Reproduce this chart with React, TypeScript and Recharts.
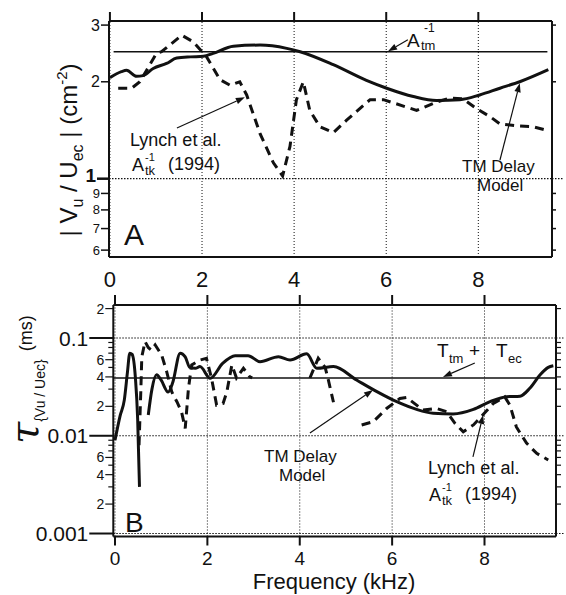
import React from 'react';
import { LineChart, Line, XAxis, YAxis, ReferenceLine } from 'recharts';

const FONT = '"Liberation Sans", Arial, Helvetica, sans-serif';
const SERIF = '"DejaVu Serif", "Liberation Serif", serif';
const INK = '#111';

const FREQ_TICKS = [0, 2, 4, 6, 8];

// ---- Panel A: |Vu / Uec| (cm^-2) ----
const A_TICKS = [0.6, 0.7, 0.8, 0.9, 1, 2, 3];
const A_TICK_LABELS = ['6', '7', '8', '9', '1', '2', '3'];
const A_X_DOMAIN = [-0.02, 9.6];
const A_Y_DOMAIN = [0.5712, 3.089];
const A_GRID_Y = [1];
const A_TM_INV = 2.48;

const TM_A_FREQ = [0, 0.25, 0.36, 0.58, 0.72, 0.94, 1.23, 1.45, 1.75, 2.03, 2.24, 2.68, 3.26, 3.84, 4.13, 4.85, 5.57, 6.01, 6.59, 7.09, 7.6, 8.03, 8.47, 8.9, 9.52];
const TM_A_MAG = [2.06, 2.15, 2.17, 2.08, 2.09, 2.2, 2.28, 2.37, 2.39, 2.4, 2.45, 2.58, 2.6, 2.54, 2.48, 2.26, 2.02, 1.91, 1.8, 1.75, 1.76, 1.82, 1.91, 2.0, 2.18];

const LYNCH_A_FREQ = [0.18, 0.47, 0.65, 1.01, 1.12, 1.56, 1.81, 2.1, 2.39, 2.61, 2.82, 2.97, 3.26, 3.55, 3.75, 3.91, 4.05, 4.2, 4.34, 4.56, 4.85, 5.14, 5.65, 5.94, 6.66, 7.09, 7.38, 7.67, 7.96, 8.25, 8.47, 8.83, 9.19, 9.52];
const LYNCH_A_MAG = [1.91, 1.91, 2.0, 2.45, 2.48, 2.79, 2.66, 2.39, 2.03, 1.95, 2.0, 1.82, 1.38, 1.12, 1.02, 1.26, 1.76, 2.0, 1.63, 1.45, 1.39, 1.52, 1.76, 1.76, 1.63, 1.73, 1.78, 1.77, 1.65, 1.56, 1.48, 1.46, 1.45, 1.41];

// ---- Panel B: group delay tau (ms) ----
const B_TICKS = [0.001, 0.002, 0.003, 0.004, 0.005, 0.006, 0.007, 0.008, 0.009, 0.01, 0.02, 0.03, 0.04, 0.05, 0.06, 0.07, 0.08, 0.09, 0.1, 0.2];
const B_TICK_LABELS = ['0.001', '2', '', '4', '', '6', '', '', '', '0.01', '2', '', '4', '', '6', '', '', '', '0.1', '2'];
const B_MAJOR = [0.001, 0.01, 0.1];
const B_X_DOMAIN = [-0.037, 9.548];
const B_Y_DOMAIN = [0.000932, 0.2176];
const T_TM_EC = 0.039;

const TM_B_FREQ = [0, 0.11, 0.2, 0.27, 0.32, 0.37, 0.44, 0.49, 0.53, 0.62, 0.72, 0.8, 0.9, 1.0, 1.15, 1.25, 1.41, 1.52, 1.62, 1.74, 1.84, 2.06, 2.33, 2.6, 2.88, 3.14, 3.54, 3.79, 4.15, 4.37, 4.73, 5.23, 5.67, 6.1, 6.53, 6.89, 7.32, 7.76, 8.12, 8.48, 8.77, 8.98, 9.2, 9.38, 9.49];
const TM_B_DELAY = [0.009, 0.016, 0.023, 0.045, 0.07, 0.068, 0.04, 0.015, 0.003, null, 0.0163, 0.03, 0.042, 0.037, 0.028, 0.035, 0.07, 0.064, 0.05, 0.049, 0.051, 0.0387, 0.055, 0.066, 0.066, 0.0573, 0.0644, 0.0596, 0.069, 0.049, 0.051, 0.0372, 0.0283, 0.0223, 0.0186, 0.017, 0.0167, 0.0186, 0.0223, 0.0251, 0.0254, 0.0306, 0.0418, 0.05, 0.052];

const LYNCH_B_FREQ = [0.52, 0.56, 0.58, 0.65, 0.72, 0.79, 0.87, 1.01, 1.12, 1.23, 1.34, 1.44, 1.52, 1.59, 1.66, 1.84, 1.98, 2.09, 2.2, 2.34, 2.42, 2.53, 2.63, 2.78, 2.92, 2.97, 3.5, 4.22, 4.4, 4.55, 4.62, 4.73, 5.0, 5.34, 5.59, 5.88, 6.17, 6.31, 6.67, 6.96, 7.18, 7.36, 7.54, 7.76, 7.96, 8.19, 8.44, 8.55, 8.69, 8.91, 9.13, 9.38];
const LYNCH_B_DELAY = [0.008, 0.03, 0.064, 0.092, 0.08, 0.075, 0.085, 0.067, 0.045, 0.028, 0.0223, 0.0176, 0.0119, 0.0305, 0.053, 0.0595, 0.062, 0.0387, 0.0206, 0.0214, 0.028, 0.053, 0.039, 0.049, 0.04, 0.039, null, 0.039, 0.062, 0.05, 0.037, 0.022, null, 0.0129, 0.0139, 0.019, 0.0241, 0.0247, 0.0183, 0.019, 0.0176, 0.0134, 0.011, 0.0129, 0.0163, 0.0214, 0.025, 0.0206, 0.0123, 0.0084, 0.0066, 0.00565];

const zip = (f: number[], v: (number | null)[]) => f.map((x, i) => ({ f: x, v: v[i] }));

const near = (a: number, b: number) => Math.abs(a - b) < 1e-9;

// ---- tick renderers ----
const LeftTickA = (p: any) => {
  const v = p.payload.value;
  const i = A_TICKS.findIndex((t) => near(t, v));
  const one = near(v, 1);
  const major = v >= 1;
  const len = one ? 12 : 8;
  return (
    <g>
      <line x1={p.x} x2={p.x - len} y1={p.y} y2={p.y} stroke={INK} strokeWidth={one ? 2.5 : 1.5} />
      <text x={p.x - len - 1} y={one ? p.y - 3 : p.y} textAnchor="end" dominantBaseline="central" fill={INK}
        fontFamily={FONT} fontSize={one ? 19 : major ? 16 : 13} fontWeight={one ? 'bold' : 'normal'}>
        {A_TICK_LABELS[i]}
      </text>
    </g>
  );
};

const RightTickA = (p: any) => {
  const v = p.payload.value;
  if (near(v, 1)) {
    return <line x1={p.x} x2={p.x + 12} y1={p.y} y2={p.y} stroke={INK} strokeWidth={1.2} strokeDasharray="1.5 1.5" />;
  }
  return <line x1={p.x} x2={p.x + 4} y1={p.y} y2={p.y} stroke={INK} strokeWidth={1.5} />;
};

const LeftTickB = (p: any) => {
  const v = p.payload.value;
  const i = B_TICKS.findIndex((t) => near(t, v));
  const label = B_TICK_LABELS[i];
  const major = B_MAJOR.some((t) => near(t, v));
  const len = major ? 24 : label ? 8 : 5;
  return (
    <g>
      <line x1={p.x} x2={p.x - len} y1={p.y} y2={p.y} stroke={INK} strokeWidth={major ? 2 : 1.2} />
      {label ? (
        <text x={p.x - len - 1} y={p.y} textAnchor="end" dominantBaseline="central" fill={INK}
          fontFamily={FONT} fontSize={major ? 21 : 14}>
          {label}
        </text>
      ) : null}
    </g>
  );
};

const RightTickB = (p: any) => {
  const v = p.payload.value;
  if (B_MAJOR.some((t) => near(t, v))) {
    return <line x1={p.x} x2={p.x + 8} y1={p.y} y2={p.y} stroke={INK} strokeWidth={1.2} strokeDasharray="1.5 1.5" />;
  }
  return <line x1={p.x} x2={p.x + 5} y1={p.y} y2={p.y} stroke={INK} strokeWidth={1.2} />;
};

const TopTick = (len: number) => (p: any) => (
  <line x1={p.x} x2={p.x} y1={p.y} y2={p.y - len} stroke={INK} strokeWidth={2} />
);

const BottomLabel = (dy: number, tickLen: number, size: number) => (p: any) => (
  <g>
    {tickLen > 0 ? <line x1={p.x} x2={p.x} y1={p.y} y2={p.y + tickLen} stroke={INK} strokeWidth={2} /> : null}
    <text x={p.x} y={p.y + dy} textAnchor="middle" fill={INK} fontFamily={FONT} fontSize={size}>
      {p.payload.value}
    </text>
  </g>
);

// annotation arrow: thin shaft with a filled head at the second point
const Arrow = (p: any) => {
  const { x1, y1, x2, y2 } = p;
  const a = Math.atan2(y2 - y1, x2 - x1);
  const L = 9;
  const W = 3.2;
  const bx = x2 - L * Math.cos(a);
  const by = y2 - L * Math.sin(a);
  const pts = `${x2},${y2} ${bx + W * Math.sin(a)},${by - W * Math.cos(a)} ${bx - W * Math.sin(a)},${by + W * Math.cos(a)}`;
  return (
    <g>
      <line x1={x1} y1={y1} x2={bx} y2={by} stroke={INK} strokeWidth={1.2} />
      <polygon points={pts} fill={INK} />
    </g>
  );
};

const dotted = { stroke: INK, strokeWidth: 1, strokeDasharray: '1 2' };
const frame = { stroke: INK, strokeWidth: 2 };

const PanelA = () => (
  <LineChart width={566} height={300} margin={{ top: 0, right: 0, bottom: 0, left: 0 }}>
    <XAxis xAxisId="b" type="number" dataKey="f" domain={A_X_DOMAIN} allowDataOverflow ticks={FREQ_TICKS}
      interval={0} height={43} axisLine={frame} tickLine={false} tickSize={0} tickMargin={0}
      tick={BottomLabel(30, 0, 22)} />
    <XAxis xAxisId="t" orientation="top" type="number" dataKey="f" domain={A_X_DOMAIN} allowDataOverflow
      ticks={FREQ_TICKS} interval={0} height={21} axisLine={frame} tickLine={false} tickSize={0} tickMargin={0}
      tick={TopTick(9)} />
    <YAxis yAxisId="l" type="number" scale="log" domain={A_Y_DOMAIN} allowDataOverflow ticks={A_TICKS}
      interval={0} width={109} axisLine={frame} tickLine={false} tickSize={0} tickMargin={0} tick={LeftTickA} />
    <YAxis yAxisId="r" orientation="right" type="number" scale="log" domain={A_Y_DOMAIN} allowDataOverflow
      ticks={A_TICKS} interval={0} width={14} axisLine={frame} tickLine={false} tickSize={0} tickMargin={0}
      tick={RightTickA} />
    {FREQ_TICKS.map((x) => (
      <ReferenceLine key={'ax' + x} xAxisId="b" yAxisId="l" x={x} {...dotted} />
    ))}
    {A_GRID_Y.map((y) => (
      <ReferenceLine key={'ay' + y} xAxisId="b" yAxisId="l" y={y} strokeWidth={1.2} stroke={INK} strokeDasharray="1.5 1.5" />
    ))}
    <ReferenceLine xAxisId="b" yAxisId="l" segment={[{ x: 0.08, y: A_TM_INV }, { x: 9.5, y: A_TM_INV }]}
      stroke={INK} strokeWidth={1.4} />
    <Line xAxisId="b" yAxisId="l" data={zip(LYNCH_A_FREQ, LYNCH_A_MAG)} dataKey="v" type="linear"
      stroke={INK} strokeWidth={3} strokeDasharray="9 6" dot={false} isAnimationActive={false} />
    <Line xAxisId="b" yAxisId="l" data={zip(TM_A_FREQ, TM_A_MAG)} dataKey="v" type="monotone"
      stroke={INK} strokeWidth={3} dot={false} isAnimationActive={false} />
    <ReferenceLine xAxisId="b" yAxisId="l" segment={[{ x: 6.47, y: 2.7 }, { x: 6.04, y: 2.49 }]} shape={Arrow} />
    <ReferenceLine xAxisId="b" yAxisId="l" segment={[{ x: 1.455, y: 1.437 }, { x: 2.93, y: 1.79 }]} shape={Arrow} />
    <ReferenceLine xAxisId="b" yAxisId="l" segment={[{ x: 8.47, y: 1.143 }, { x: 8.9, y: 1.98 }]} shape={Arrow} />
  </LineChart>
);

const PanelB = () => (
  <LineChart width={566} height={305} margin={{ top: 0, right: 0, bottom: 0, left: 0 }}>
    <XAxis xAxisId="b" type="number" dataKey="f" domain={B_X_DOMAIN} allowDataOverflow ticks={FREQ_TICKS}
      interval={0} height={58.5} axisLine={frame} tickLine={false} tickSize={0} tickMargin={0}
      tick={BottomLabel(28, 9, 19)} />
    <XAxis xAxisId="t" orientation="top" type="number" dataKey="f" domain={B_X_DOMAIN} allowDataOverflow
      ticks={FREQ_TICKS} interval={0} height={15} axisLine={frame} tickLine={false} tickSize={0} tickMargin={0}
      tick={TopTick(10)} />
    <YAxis yAxisId="l" type="number" scale="log" domain={B_Y_DOMAIN} allowDataOverflow ticks={B_TICKS}
      interval={0} width={113.3} axisLine={frame} tickLine={false} tickSize={0} tickMargin={0} tick={LeftTickB} />
    <YAxis yAxisId="r" orientation="right" type="number" scale="log" domain={B_Y_DOMAIN} allowDataOverflow
      ticks={B_TICKS} interval={0} width={10} axisLine={frame} tickLine={false} tickSize={0} tickMargin={0}
      tick={RightTickB} />
    {FREQ_TICKS.map((x) => (
      <ReferenceLine key={'bx' + x} xAxisId="b" yAxisId="l" x={x} {...dotted} />
    ))}
    {B_MAJOR.map((y) => (
      <ReferenceLine key={'by' + y} xAxisId="b" yAxisId="l" y={y} strokeWidth={1.2} stroke={INK} strokeDasharray="1.5 1.5" />
    ))}
    <ReferenceLine xAxisId="b" yAxisId="l" y={T_TM_EC} stroke={INK} strokeWidth={1.4} />
    <Line xAxisId="b" yAxisId="l" data={zip(LYNCH_B_FREQ, LYNCH_B_DELAY)} dataKey="v" type="linear"
      stroke={INK} strokeWidth={3} strokeDasharray="9 6" dot={false} isAnimationActive={false} />
    <Line xAxisId="b" yAxisId="l" data={zip(TM_B_FREQ, TM_B_DELAY)} dataKey="v" type="monotone"
      stroke={INK} strokeWidth={3} dot={false} isAnimationActive={false} />
    <ReferenceLine xAxisId="b" yAxisId="l" segment={[{ x: 7.79, y: 0.0555 }, { x: 7.1, y: 0.0399 }]} shape={Arrow} />
    <ReferenceLine xAxisId="b" yAxisId="l" segment={[{ x: 4.22, y: 0.01067 }, { x: 5.586, y: 0.0294 }]} shape={Arrow} />
    <ReferenceLine xAxisId="b" yAxisId="l" segment={[{ x: 7.75, y: 0.00607 }, { x: 7.97, y: 0.0163 }]} shape={Arrow} />
  </LineChart>
);

const T = (props: any) => <text fill={INK} fontFamily={FONT} {...props} />;

const Labels = () => (
  <svg width={566} height={595} style={{ position: 'absolute', left: 0, top: 0, pointerEvents: 'none' }}>
    {/* panel A annotations */}
    <T x={407} y={47} fontSize={19}>A</T>
    <T x={424} y={32} fontSize={12}>-1</T>
    <T x={421} y={50} fontSize={13}>tm</T>
    <T x={130} y={146} fontSize={18}>Lynch et al.</T>
    <T x={132} y={171} fontSize={18}>A</T>
    <T x={145} y={161} fontSize={11}>-1</T>
    <T x={145} y={175} fontSize={13}>tk</T>
    <T x={168} y={170} fontSize={18}>(1994)</T>
    <T x={462} y={172} fontSize={17}>TM Delay</T>
    <T x={477} y={191} fontSize={17}>Model</T>
    <T x={124} y={245} fontSize={30}>A</T>

    {/* panel B annotations */}
    <T x={437} y={357} fontSize={19}>T</T>
    <T x={449} y={363} fontSize={13}>tm</T>
    <T x={469} y={357} fontSize={19}>+</T>
    <T x={496} y={357} fontSize={19}>T</T>
    <T x={508} y={363} fontSize={13}>ec</T>
    <T x={264} y={462} fontSize={17}>TM Delay</T>
    <T x={279} y={481} fontSize={17}>Model</T>
    <T x={428} y={474} fontSize={18}>Lynch et al.</T>
    <T x={429} y={501} fontSize={18}>A</T>
    <T x={442} y={491} fontSize={11}>-1</T>
    <T x={442} y={505} fontSize={13}>tk</T>
    <T x={465} y={500} fontSize={18}>(1994)</T>
    <T x={125} y={532} fontSize={28}>B</T>

    {/* axis titles */}
    <T x={334} y={589} fontSize={22} textAnchor="middle">Frequency (kHz)</T>
    <text transform="translate(77,150) rotate(-90)" textAnchor="middle" fill={INK} fontFamily={FONT} fontSize={24}>
      {'| V'}
      <tspan fontSize={16} dy={6}>u</tspan>
      <tspan dy={-6}>{' / U'}</tspan>
      <tspan fontSize={16} dy={6}>ec</tspan>
      <tspan dy={-6}>{' | (cm'}</tspan>
      <tspan fontSize={15} dy={-10}>-2</tspan>
      <tspan dy={10}>)</tspan>
    </text>
    <text transform="translate(38,444) rotate(-90)" textAnchor="start" fill={INK} fontFamily={FONT} fontSize={18}>
      <tspan fontFamily={SERIF} fontStyle="italic" fontSize={40}>{'\u03c4'}</tspan>
      <tspan fontSize={14} dy={7}>{'{Vu / Uec}'}</tspan>
      <tspan dy={-13} dx={8}>(ms)</tspan>
    </text>
  </svg>
);

export default function App() {
  return (
    <div style={{ position: 'absolute', left: 0, top: 0, width: 566, height: 595, background: '#fff' }}>
      <div style={{ position: 'absolute', left: 0, top: 0 }}>
        <PanelA />
      </div>
      <div style={{ position: 'absolute', left: 0, top: 290 }}>
        <PanelB />
      </div>
      <Labels />
    </div>
  );
}
